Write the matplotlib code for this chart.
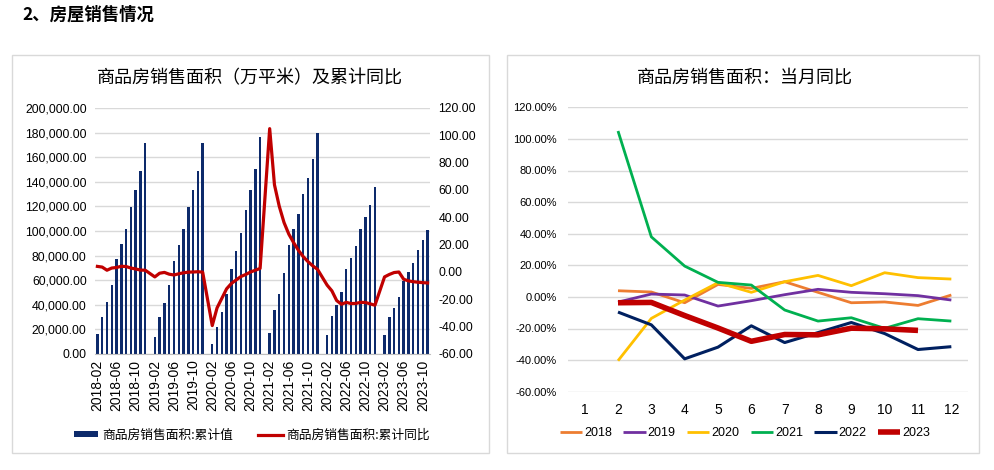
import matplotlib
matplotlib.use("Agg")
import matplotlib.pyplot as plt
from matplotlib.patches import Rectangle
from matplotlib.lines import Line2D
from matplotlib.ticker import FuncFormatter, MultipleLocator
import numpy as np

plt.rcParams['font.family'] = ['Liberation Sans', 'Noto Sans CJK SC', 'DejaVu Sans']

# ---------------- data ----------------
years = [2018, 2019, 2020, 2021, 2022, 2023]
# cumulative sales area (万平米), months Feb..Dec (2023: Feb..Nov)
cum_2018 = [15971, 30242, 42362, 55851, 77143, 89057, 101397, 119188, 133025, 148537, 171654]
cum_2019 = [14102, 29829, 41609, 55718, 75786, 88573, 101849, 119179, 133251, 148905, 171558]
cum_2020 = [8475, 21978, 33973, 48703, 69404, 83540, 98486, 117073, 132969, 150643, 176086]
cum_2021 = [17363, 36007, 48951, 66108, 88635, 101498, 114193, 130332, 143041, 158352, 179433]
cum_2022 = [15703, 31046, 39768, 50738, 68923, 78178, 87890, 101422, 111179, 121250, 135837]
cum_2023 = [15133, 29946, 37636, 46440, 59515, 66563, 73949, 84806, 92579, 100509]
# cumulative YoY (%)
cyoy_2018 = [4.1, 3.6, 1.3, 2.9, 3.3, 4.2, 4.0, 2.9, 2.2, 1.4, 1.3]
cyoy_2019 = [-3.6, -0.9, -0.3, -1.6, -2.2, -1.3, -0.6, -0.1, 0.0, 0.2, -0.1]
cyoy_2020 = [-39.2, -26.3, -19.3, -12.3, -8.4, -5.8, -3.3, -1.8, 0.0, 1.3, 2.6]
cyoy_2021 = [104.9, 63.8, 48.1, 36.2, 27.7, 21.5, 15.9, 11.3, 7.6, 4.5, 1.9]
cyoy_2022 = [-9.6, -13.8, -20.9, -23.6, -22.2, -23.1, -23.0, -22.2, -22.3, -23.3, -24.3]
cyoy_2023 = [-3.6, -1.8, -0.4, 0.0, -5.3, -6.5, -7.1, -7.5, -7.8, -8.0]

# monthly YoY (%), months 2..12 (2023: 2..11)
mon_2018 = [3.9, 3.1, -3.7, 7.9, 5.4, 9.6, 2.9, -3.7, -3.2, -5.4, 1.2]
mon_2019 = [-3.3, 1.8, 1.2, -5.8, -2.4, 1.4, 4.8, 2.9, 2.0, 0.8, -2.0]
mon_2020 = [-40.4, -13.6, -2.0, 9.0, 2.9, 9.6, 13.6, 7.1, 15.3, 12.2, 11.3]
mon_2021 = [105.0, 38.0, 19.5, 9.2, 7.5, -8.3, -15.3, -13.2, -19.9, -13.8, -15.3]
mon_2022 = [-9.6, -17.7, -39.2, -31.8, -18.3, -28.9, -22.6, -16.2, -23.2, -33.3, -31.5]
mon_2023 = [-3.7, -3.5, -11.8, -19.7, -28.1, -23.8, -24.0, -19.8, -20.2, -21.2]

cum_all = [cum_2018, cum_2019, cum_2020, cum_2021, cum_2022, cum_2023]
cyoy_all = [cyoy_2018, cyoy_2019, cyoy_2020, cyoy_2021, cyoy_2022, cyoy_2023]
mon_all = [mon_2018, mon_2019, mon_2020, mon_2021, mon_2022, mon_2023]

# build month categories 2018-02 .. 2023-11 (January present, no data)
labels, bar_vals, line_vals = [], [], []
for y, cv, yv in zip(years, cum_all, cyoy_all):
    months = range(1, 13) if y > 2018 else range(2, 13)
    for m in months:
        if y == 2023 and m > 11:
            break
        labels.append(f"{y}-{m:02d}")
        if m == 1:
            bar_vals.append(np.nan)
            line_vals.append(np.nan)
        else:
            bar_vals.append(cv[m - 2])
            line_vals.append(yv[m - 2])
bar_vals = np.array(bar_vals, dtype=float)
line_vals = np.array(line_vals, dtype=float)
xs = np.arange(len(labels))

# ---------------- figure ----------------
W, H = 995, 470
fig = plt.figure(figsize=(W / 100, H / 100), dpi=100)
fig.patch.set_facecolor('white')

def ax_rect(x0, y0, x1, y1):
    return [x0 / W, 1 - y1 / H, (x1 - x0) / W, (y1 - y0) / H]

# panel borders
for (x0, y0, x1, y1) in [(12, 55, 489, 453), (507, 55, 979, 453)]:
    fig.patches.append(Rectangle((x0 / W, 1 - y1 / H), (x1 - x0) / W, (y1 - y0) / H,
                                 transform=fig.transFigure, fill=False,
                                 edgecolor='#d9d9d9', linewidth=1.0))

fig.text(22 / W, 1 - 15 / H, "2、房屋销售情况", fontsize=12.5, fontweight='bold',
         va='center', ha='left', family=['Noto Sans CJK SC', 'DejaVu Sans'])

grid_c = '#d9d9d9'
navy = '#0d2a6b'
red = '#c00000'

# ---------------- left chart ----------------
ax1 = fig.add_axes(ax_rect(95, 108, 430, 354))
mask = ~np.isnan(bar_vals)
ax1.bar(xs[mask], bar_vals[mask], width=0.5, color=navy, zorder=2)
ax1.set_xlim(-0.5, len(labels) - 0.5)
ax1.set_ylim(0, 200000)
ax1.yaxis.set_major_locator(MultipleLocator(20000))
ax1.yaxis.set_major_formatter(FuncFormatter(lambda v, p: f"{v:,.2f}"))
ax1.grid(axis='y', color=grid_c, linewidth=1.0, zorder=0)
ax1.set_axisbelow(True)
for s in ['top', 'right', 'left']:
    ax1.spines[s].set_visible(False)
ax1.spines['bottom'].set_color('#bfbfbf')
tick_pos = xs[::4]
ax1.set_xticks(tick_pos)
ax1.set_xticklabels([labels[i] for i in tick_pos], rotation=90, fontsize=10)
ax1.tick_params(axis='x', length=0, pad=4)
ax1.tick_params(axis='y', length=0, labelsize=8.8, pad=6)

ax1b = ax1.twinx()
lm = ~np.isnan(line_vals)
ax1b.plot(xs[lm], line_vals[lm], color=red, linewidth=2.3, zorder=3)
ax1b.set_ylim(-60, 120)
ax1b.yaxis.set_major_locator(MultipleLocator(20))
ax1b.yaxis.set_major_formatter(FuncFormatter(lambda v, p: f"{v:.2f}"))
for s in ['top', 'right', 'left', 'bottom']:
    ax1b.spines[s].set_visible(False)
ax1b.tick_params(axis='y', length=0, labelsize=8.8, pad=6)
ax1b.set_xlim(-0.5, len(labels) - 0.5)

fig.text(250 / W, 1 - 78 / H, "商品房销售面积（万平米）及累计同比", fontsize=13,
         ha='center', va='center', family=['Noto Sans CJK SC', 'DejaVu Sans'])

h1 = Rectangle((0, 0), 1, 1, facecolor=navy, edgecolor='none')
h2 = Line2D([], [], color=red, linewidth=2.3)
fig.legend([h1, h2], ["商品房销售面积:累计值", "商品房销售面积:累计同比"],
           loc='center', bbox_to_anchor=(252 / W, 1 - 435 / H), ncol=2,
           frameon=False, handlelength=1.9, handleheight=0.45,
           columnspacing=2.0, handletextpad=0.3,
           prop={'family': ['Noto Sans CJK SC', 'DejaVu Sans'], 'size': 9.2})

# ---------------- right chart ----------------
ax2 = fig.add_axes(ax_rect(568, 107.3, 968, 391.7))
colors = ['#ed7d31', '#7030a0', '#ffc000', '#00b050', '#002060', '#c00000']
widths = [2.0, 2.0, 2.0, 2.0, 2.2, 4.0]
handles = []
for y, vals, c, lw in zip(years, mon_all, colors, widths):
    mx = np.arange(2, 2 + len(vals))
    ln, = ax2.plot(mx, vals, color=c, linewidth=lw, solid_capstyle='butt', zorder=3)
    handles.append(ln)
ax2.set_xlim(0.5, 12.5)
ax2.set_ylim(-60, 120)
ax2.set_xticks(range(1, 13))
ax2.yaxis.set_major_locator(MultipleLocator(20))
ax2.yaxis.set_major_formatter(FuncFormatter(lambda v, p: f"{v:.2f}%"))
ax2.grid(axis='y', color=grid_c, linewidth=1.0, zorder=0)
ax2.set_axisbelow(True)
for s in ['top', 'right', 'left', 'bottom']:
    ax2.spines[s].set_visible(False)
ax2.tick_params(axis='x', length=0, labelsize=10, pad=8)
ax2.tick_params(axis='y', length=0, labelsize=8, pad=8)

fig.text(745 / W, 1 - 78 / H, "商品房销售面积：当月同比", fontsize=13,
         ha='center', va='center', family=['Noto Sans CJK SC', 'DejaVu Sans'])

fig.legend(handles, [str(y) for y in years], loc='center',
           bbox_to_anchor=(745 / W, 1 - 433 / H), ncol=6, frameon=False,
           fontsize=9, handlelength=1.8, columnspacing=0.9, handletextpad=0.15)

fig.savefig("out.png", dpi=100, facecolor='white')
